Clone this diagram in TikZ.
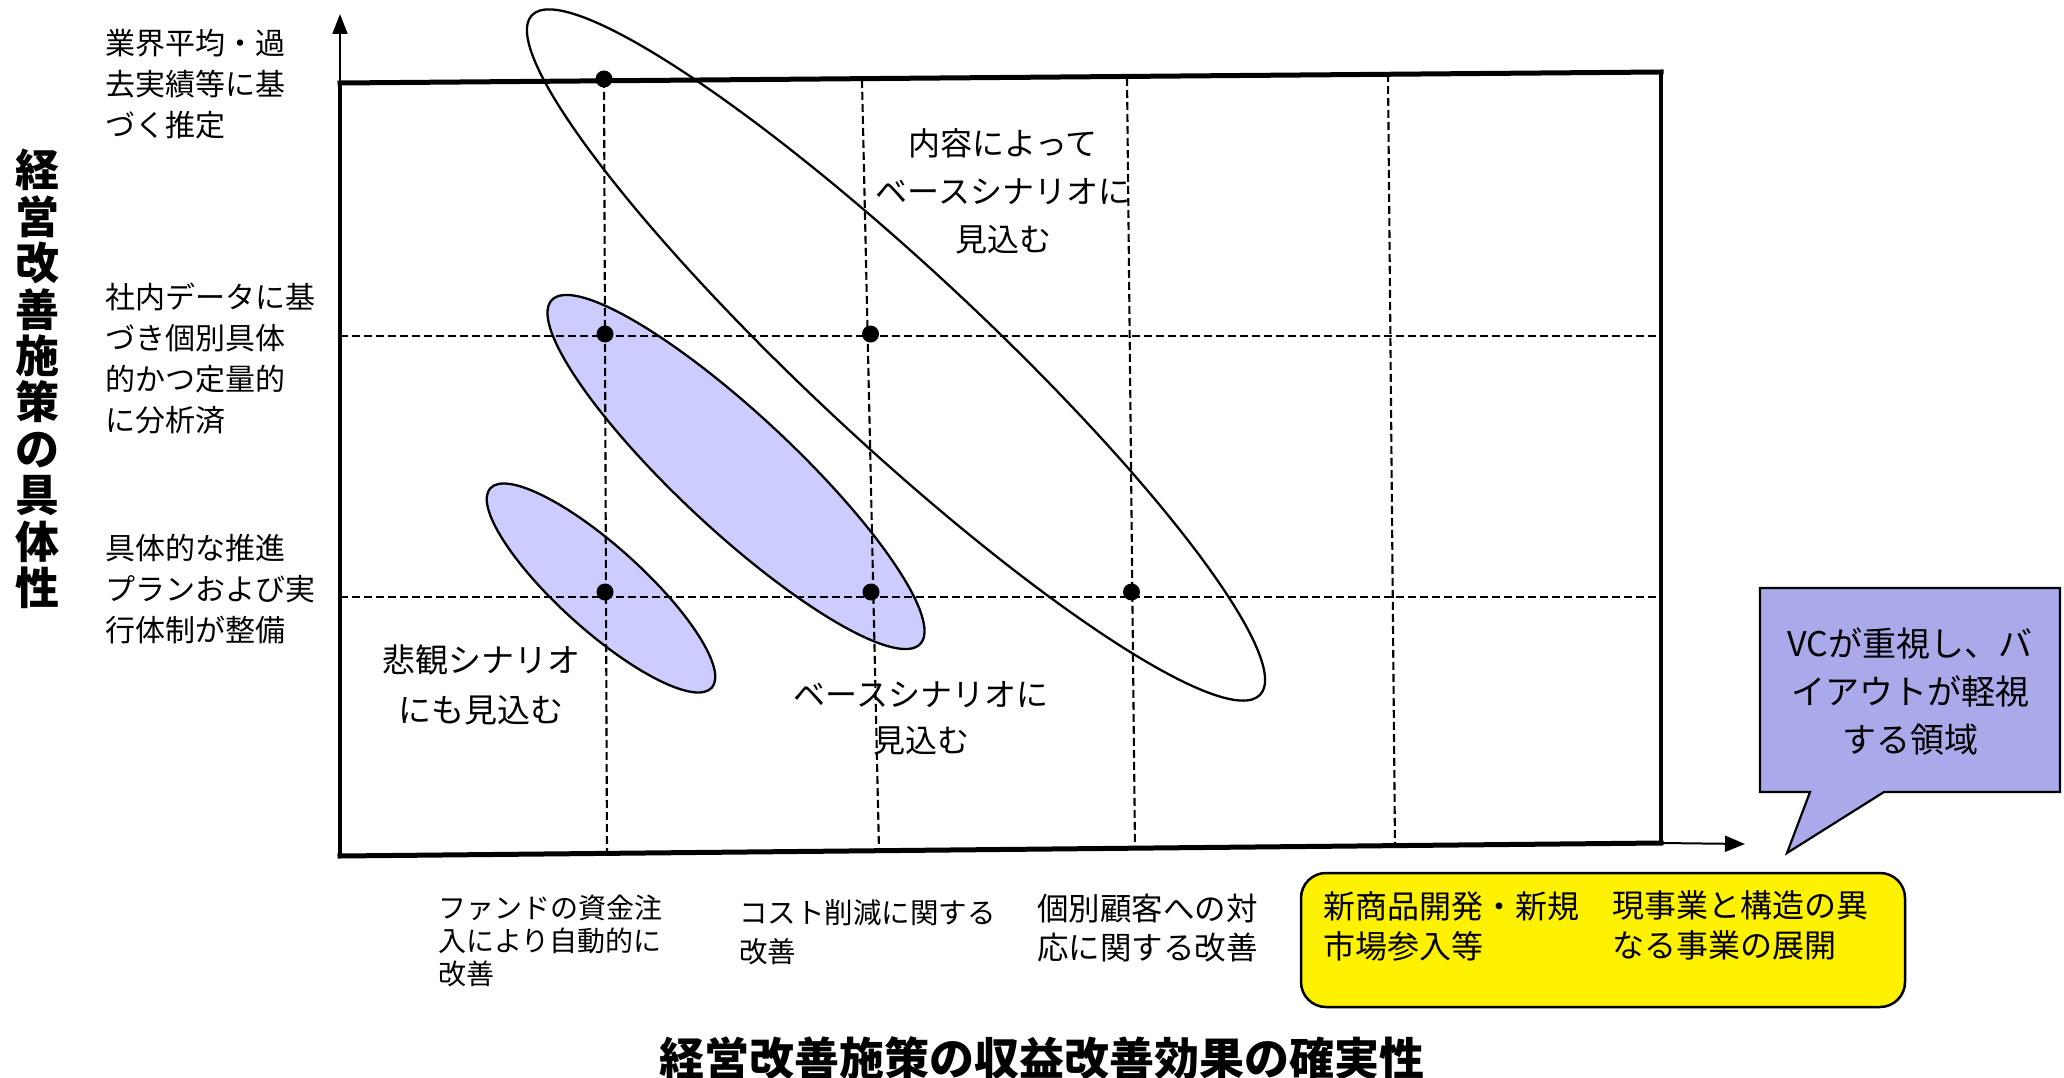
\documentclass[tikz,border=0pt]{standalone}
\usepackage{fontspec}
\setmainfont{Noto Sans CJK JP}
\usetikzlibrary{arrows.meta}
\definecolor{lav}{RGB}{204,204,255}
\definecolor{calloutfill}{RGB}{170,170,235}
\begin{document}
\begin{tikzpicture}[x=1pt,y=-1pt,
  frameline/.style={line width=5pt, line cap=rect},
  gridline/.style={line width=2.1pt, dash pattern=on 8pt off 4pt},
  ellline/.style={draw=black, line width=2.3pt},
  ellfill/.style={fill=lav},
  dotnode/.style={circle, fill=black, inner sep=0pt, minimum size=17pt},
  ylbl/.style={inner sep=0pt, align=left, anchor=west, font=\fontsize{30}{41}\selectfont},
  inlbl/.style={inner sep=0pt, align=center, font=\fontsize{32}{48}\selectfont},
  axistitle/.style={inner sep=0pt, align=center, font=\bfseries\fontsize{45}{46.4}\selectfont},
]
\useasboundingbox (0,0) rectangle (2064,1078);

% key coordinates
\coordinate (O) at (340,856);
\coordinate (TL) at (340,83);
\coordinate (TR) at (1661,72);
\coordinate (BR) at (1661,843);
\coordinate (ytip) at (340,14);
\coordinate (xtip) at (1745,844);

% filled ellipses
\fill[ellfill, rotate around={-43:(736,472)}] (736,472) ellipse [x radius=252, y radius=58];
\fill[ellfill, rotate around={-42:(601,588)}] (601,588) ellipse [x radius=149, y radius=42];

% dashed grid
\draw[gridline] (604,80) -- (607,855);
\draw[gridline] (862,80) -- (879,851);
\draw[gridline] (1127,78) -- (1135,849);
\draw[gridline] (1388,74) -- (1395,846);
\draw[gridline] (340,336) -- (1661,336);
\draw[gridline] (340,597) -- (1661,597);

% ellipse outlines
\draw[ellline, rotate around={-43:(736,472)}] (736,472) ellipse [x radius=252, y radius=58];
\draw[ellline, rotate around={-42:(601,588)}] (601,588) ellipse [x radius=149, y radius=42];
\draw[ellline, rotate around={-43:(896,355)}] (896,355) ellipse [x radius=498, y radius=87];

% frame
\draw[frameline] (TL) -- (TR);
\draw[frameline] (O) -- (BR);
\draw[line width=4.5pt] (O) -- (TL);
\draw[line width=3.5pt] (TR) -- (BR);
\draw[line width=2pt, -{Triangle[length=20pt,width=15pt]}] (TL) -- (ytip);
\draw[line width=2pt, -{Triangle[length=20pt,width=16pt]}] (BR) -- (xtip);

% dots
\node[dotnode] (d1) at (604,79) {};
\node[dotnode] (d2) at (605,334) {};
\node[dotnode] (d3) at (870.5,334) {};
\node[dotnode] (d4) at (605,592) {};
\node[dotnode] (d5) at (871,592) {};
\node[dotnode] (d6) at (1131.5,592) {};

% y-axis labels
\node[ylbl] (yl1) at (105,84.5) {業界平均・過\\去実績等に基\\づく推定};
\node[ylbl] (yl2) at (105,358.5) {社内データに基\\づき個別具体\\的かつ定量的\\に分析済};
\node[ylbl] (yl3) at (105,589) {具体的な推進\\プランおよび実\\行体制が整備};

% y-axis title
\node[axistitle, font=\bfseries\fontsize{44}{46.4}\selectfont] (ytitle) at (38,379) {経\\営\\改\\善\\施\\策\\の\\具\\体\\性};

% in-plot labels
\node[inlbl] (t1) at (1003,191) {内容によって\\ベースシナリオに\\見込む};
\node[inlbl, font=\fontsize{32}{46}\selectfont] (t2) at (921,718) {ベースシナリオに\\見込む};
\node[inlbl, font=\fontsize{33}{50}\selectfont] (t3) at (481,685) {悲観シナリオ\\にも見込む};

% x-axis labels
\node[ylbl, font=\fontsize{28}{33}\selectfont] (xl1) at (438,941) {ファンドの資金注\\入により自動的に\\改善};
\node[ylbl, font=\fontsize{28.5}{39.5}\selectfont] (xl2) at (739,932) {コスト削減に関する\\改善};
\node[ylbl, font=\fontsize{31.5}{39.5}\selectfont] (xl3) at (1037,928) {個別顧客への対\\応に関する改善};

% yellow box
\draw[line width=2.5pt, fill=yellow, rounded corners=25pt] (1301,873) rectangle (1905,1007);
\node[ylbl, font=\fontsize{32}{40}\selectfont] (yb1) at (1323,926) {新商品開発・新規\\市場参入等};
\node[ylbl, font=\fontsize{32}{40}\selectfont] (yb2) at (1612,925) {現事業と構造の異\\なる事業の展開};

% callout
\draw[line width=2.2pt, fill=calloutfill, line join=miter]
  (1760,588) -- (2060,588) -- (2060,792) -- (1884,792) -- (1787,853) -- (1810,792) -- (1760,792) -- cycle;
\node[inlbl, font=\fontsize{34}{48}\selectfont] (co) at (1910,692) {VCが重視し、バ\\イアウトが軽視\\する領域};

% x-axis title
\node[axistitle] (xtitle) at (1042,1058) {経営改善施策の収益改善効果の確実性};
\end{tikzpicture}
\end{document}
